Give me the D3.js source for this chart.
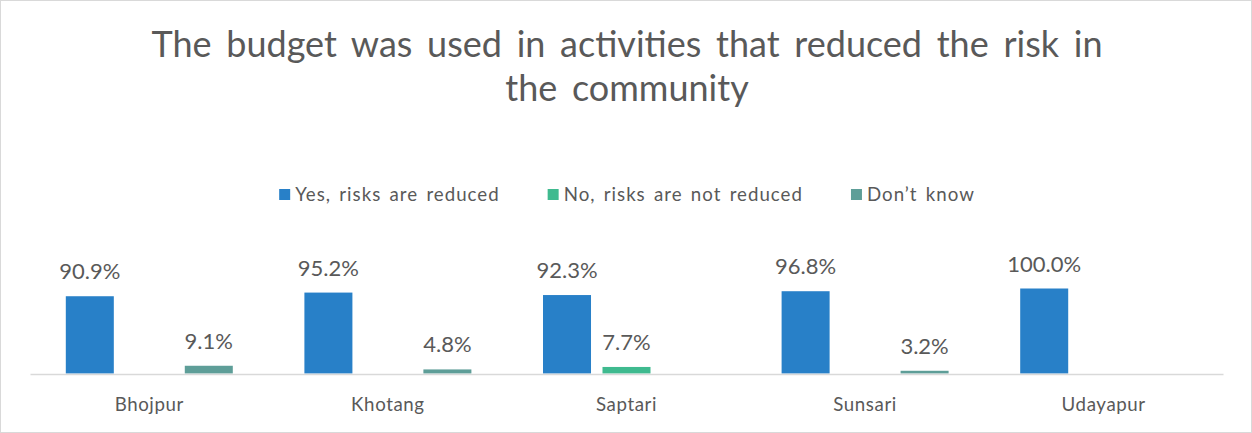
<!DOCTYPE html>
<html>
<head>
<meta charset="utf-8">
<script src="https://cdn.jsdelivr.net/npm/d3@7"></script>
<style>
  html, body { margin: 0; padding: 0; background: #fff; }
  svg { display: block; font-family: Lato, "Open Sans", sans-serif; }
</style>
</head>
<body>
<svg id="chart" width="1252" height="433"></svg>
<script>
// Survey answers per district (percent of respondents)
const districts = ["Bhojpur", "Khotang", "Saptari", "Sunsari", "Udayapur"];
const seriesNames = ["Yes, risks are reduced", "No, risks are not reduced", "Don\u2019t know"];
const yesValues = [90.9, 95.2, 92.3, 96.8, 100.0];
const noValues = [0, 0, 7.7, 0, 0];
const dontKnowValues = [9.1, 4.8, 0, 3.2, 0];
const seriesColors = ["#2880C8", "#3FBA8F", "#5E9E98"];
const titleLines = ["The budget was used in activities that reduced the risk in", "the community"];

const seriesValues = [yesValues, noValues, dontKnowValues];

const W = 1252, H = 433;
const svg = d3.select("#chart");
const textColor = "#595959";

// outer frame
svg.append("rect")
  .attr("x", 0.5).attr("y", 0.5)
  .attr("width", W - 1).attr("height", H - 1)
  .attr("fill", "#fff").attr("stroke", "#d9d9d9");

// title
svg.append("g").selectAll("text")
  .data(titleLines)
  .join("text")
  .attr("x", 627)
  .attr("y", (d, i) => 57 + i * 44)
  .attr("text-anchor", "middle")
  .attr("font-size", 36)
  .attr("word-spacing", 5.5)
  .attr("fill", textColor)
  .text(d => d);

// scales
const x0 = d3.scaleBand().domain(districts).range([30, 1223]).paddingInner(0).paddingOuter(0);
const groupInset = (x0.bandwidth() - 167) / 2;
const x1 = d3.scaleBand().domain(d3.range(seriesNames.length))
  .range([groupInset, x0.bandwidth() - groupInset])
  .paddingInner(0.193).paddingOuter(0);
const y = d3.scaleLinear().domain([0, 100]).range([373.5, 288.5]);

// flatten into bar records
const bars = [];
districts.forEach((d, ci) => {
  seriesValues.forEach((vals, si) => {
    bars.push({ district: d, series: si, value: vals[ci] });
  });
});

const plot = svg.append("g");

plot.selectAll("rect.bar")
  .data(bars.filter(b => b.value > 0))
  .join("rect")
  .attr("class", "bar")
  .attr("x", b => x0(b.district) + x1(b.series))
  .attr("width", x1.bandwidth())
  .attr("y", b => y(b.value))
  .attr("height", b => y(0) - y(b.value))
  .attr("fill", b => seriesColors[b.series]);

// category axis line
const xAxis = d3.axisBottom(x0).tickSize(0).tickPadding(0);
const axisG = svg.append("g").attr("transform", `translate(0,${y(0) + 0.5})`).call(xAxis);
axisG.select(".domain").attr("stroke", "#d9d9d9").attr("stroke-width", 1.5);
axisG.selectAll(".tick text")
  .attr("y", 37)
  .attr("dy", 0)
  .attr("font-size", 18.7)
  .attr("letter-spacing", 0.6)
  .attr("font-family", "Lato, 'Open Sans', sans-serif")
  .attr("fill", textColor);

// value labels
plot.selectAll("text.val")
  .data(bars.filter(b => b.value > 0))
  .join("text")
  .attr("class", "val")
  .attr("x", b => x0(b.district) + x1(b.series) + x1.bandwidth() / 2)
  .attr("y", b => y(b.value) - 17)
  .attr("text-anchor", "middle")
  .attr("font-size", 22)
  .attr("fill", textColor)
  .text(b => b.value.toFixed(1) + "%");

// legend: square + label per series, centred as one row
const legend = svg.append("g");
const items = legend.selectAll("g.item")
  .data(seriesNames)
  .join("g")
  .attr("class", "item");
items.append("rect")
  .attr("width", 11).attr("height", 11)
  .attr("y", 189)
  .attr("fill", (d, i) => seriesColors[i]);
items.append("text")
  .attr("x", 16)
  .attr("y", 201)
  .attr("font-size", 18.7)
  .attr("letter-spacing", 1)
  .attr("word-spacing", 2.5)
  .attr("fill", textColor)
  .text(d => d);
let cursor = 0;
const offsets = [];
items.each(function () {
  offsets.push(cursor);
  const w = 16 + d3.select(this).select("text").node().getComputedTextLength();
  cursor += w + 48;
});
const totalW = cursor - 48;
const startX = 627 - totalW / 2;
items.attr("transform", (d, i) => `translate(${startX + offsets[i]},0)`);
</script>
</body>
</html>
